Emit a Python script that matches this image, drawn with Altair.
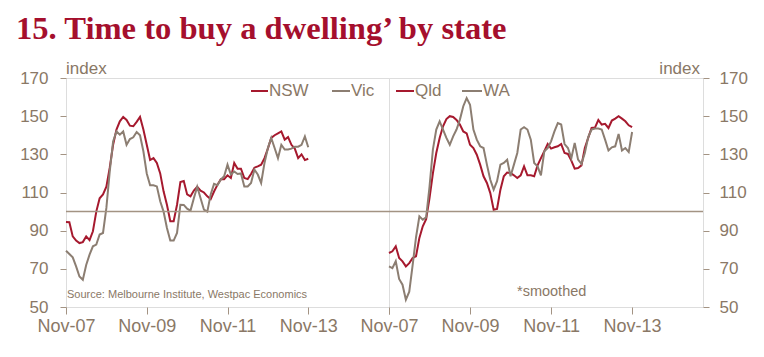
import altair as alt
import pandas as pd

# ---------------- data ----------------
months = list(range(73))  # months since Nov-07
x_tick_values = [0, 24, 48, 72, 96]
x_tick_labels = ["Nov-07", "Nov-09", "Nov-11", "Nov-13", "Nov-15"]
y_ticks = [50, 70, 90, 110, 130, 150, 170]

nsw = [94.5, 94.4, 87, 84.8, 83.5, 84, 87, 85, 89.7, 100,
       107, 109, 113, 123, 135, 143, 147.3, 149.6, 148, 145,
       144.7, 147, 149.6, 143, 135, 127, 128, 125.5, 120, 110.6,
       103.6, 95, 95, 103.6, 115.5, 116, 109, 108, 111, 113,
       111, 110, 108, 106.5, 110.5, 114, 117, 117, 119, 117.6,
       125.5, 122.5, 122.5, 117.6, 117, 119.7, 123, 123.7, 124.6, 128,
       133, 138.6, 140, 141, 142, 137.7, 139, 135, 133, 128,
       130, 127, 127.7]
vic = [79.5, 77.8, 76, 71.3, 66, 64.3, 72, 77.4, 81.8, 82.7,
       88, 88.8, 101.9, 121, 136.8, 142, 140.3, 142, 135, 138,
       138.9, 141.7, 140, 131.6, 120, 113.8, 113.8, 113.2, 105.4, 100,
       91.4, 84.8, 84.8, 88.8, 103.6, 103.5, 101.5, 100.5, 107, 113,
       107, 101, 100, 109, 114.5, 113.8, 116.7, 118.5, 124.6, 119.4,
       121, 119.7, 120, 113.2, 113.2, 115, 122, 119.4, 115, 125.5,
       133.3, 138.6, 133.3, 128, 135, 132.5, 132.5, 133, 134, 134,
       135, 139.4, 133.7]
qld = [78.3, 79.2, 81.8, 75.7, 73.9, 71.3, 73, 75.7, 76.6, 86.2,
       92.3, 96, 107, 120, 130.7, 138.6, 144.7, 148.5, 150, 149.6,
       148, 145.6, 142, 141, 135, 133.3, 129.8, 124.6, 118.5, 115,
       109.7, 101, 101.4, 111.5, 118.5, 120.5, 120.2, 119, 117.6, 119,
       123.7, 119, 119, 118.5, 124.2, 128, 131.6, 135.4, 133, 133.7,
       134.2, 135.4, 130.7, 130.2, 126.7, 122.5, 122.8, 124.2, 133.3, 138.6,
       143.8, 144, 148, 145.6, 146, 143.8, 147.7, 148.7, 150, 148.7,
       147.3, 145.2, 144.2]
wa = [71.3, 70.4, 74, 64.7, 61.7, 53.8, 58, 72, 86.5, 97.5,
      95.8, 97, 113, 132.5, 143, 147.3, 143, 138.6, 135, 139.4,
      143, 148.2, 155.2, 159.5, 156, 143, 137.7, 134.2, 133.3, 124.6,
      116.7, 111.5, 115.9, 124.6, 125.5, 127.2, 118.5, 124.6, 130.7, 143,
      144.2, 143, 137.7, 125.5, 123.7, 119, 131.6, 133.3, 136.8, 142,
      146.4, 145.6, 135.4, 133.3, 128, 136, 127.2, 125, 130.7, 139,
      143, 143.5, 143.5, 143, 137.7, 132, 133.7, 134.2, 140.7, 132,
      133.3, 131.2, 141.7]

left_series = ["NSW", "Vic"]
right_series = ["Qld", "WA"]
title_text = "15. Time to buy a dwelling\u2019 by state"
source_text = "Source: Melbourne Institute, Westpac Economics"
note_text = "*smoothed"
unit_text = "index"

# ---------------- style ----------------
RED = "#a6192e"
GRAY = "#8c7e72"
TXT = "#8a7866"
FRAME = "#a39383"
FONT = "Liberation Sans"

H = 229
W_LEFT = 323
W_RIGHT = 314

label_expr = "[" + ",".join(f"'{s}'" for s in x_tick_labels) + "][round(datum.value/24)]"


def long_df(names, a, b):
    return pd.DataFrame({
        "month": months + months,
        "value": a + b,
        "series": [names[0]] * len(months) + [names[1]] * len(months),
    })


def panel(names, a, b, width, xmax, y_orient, legend_pos, unit_x, unit_align, notes):
    df = long_df(names, a, b)
    xvals = [v for v in x_tick_values if v <= xmax]
    yscale = alt.Scale(domain=[50, 170], nice=False, zero=False)
    x = alt.X("month:Q",
              scale=alt.Scale(domain=[0, xmax], nice=False, zero=False),
              axis=alt.Axis(values=xvals, labelExpr=f"datum.value >= 96 ? '' : {label_expr}",
                            title=None, grid=False, domain=False, tickSize=7,
                            tickColor=FRAME, labelColor=TXT, labelFont=FONT,
                            labelFontSize=18, labelPadding=3, labelFlush=False,
                            labelOverlap=False))
    yaxis = alt.Axis(values=y_ticks, orient=y_orient, title=None, grid=False,
                     domain=False, tickSize=6, tickColor=FRAME, labelColor=TXT,
                     labelFont=FONT, labelFontSize=17, labelOverlap=False,
                     labelFlush=False, labelBound=False,
                     labelPadding=12 if y_orient == "left" else 10)
    y = alt.Y("value:Q", scale=yscale, axis=yaxis)
    lines = alt.Chart(df).mark_line(strokeWidth=2).encode(
        x=x, y=y,
        color=alt.Color("series:N", scale=alt.Scale(domain=names, range=[RED, GRAY]), legend=None),
        detail="series:N",
    )
    ref = alt.Chart(pd.DataFrame({"value": [100]})).mark_rule(color=FRAME, strokeWidth=1.5).encode(
        y=alt.Y("value:Q", scale=yscale, axis=yaxis)
    )
    layers = [lines, ref]
    for (name, col, (x0, x1)) in zip(names, [RED, GRAY], legend_pos):
        ldf = pd.DataFrame({"t": [name]})
        layers.append(alt.Chart(ldf).mark_rule(color=col, strokeWidth=2).encode(
            x=alt.value(x0), x2=alt.value(x1), y=alt.value(13)))
        layers.append(alt.Chart(ldf).mark_text(align="left", baseline="middle", font=FONT,
                                               fontSize=17, color=TXT, dx=1).encode(
            text="t:N", x=alt.value(x1), y=alt.value(13)))
    layers.append(alt.Chart(pd.DataFrame({"t": [unit_text]})).mark_text(
        align=unit_align, baseline="alphabetic", font=FONT, fontSize=17, color=TXT).encode(
        text="t:N", x=alt.value(unit_x), y=alt.value(-4)))
    for (t, nx, ny, fs) in notes:
        layers.append(alt.Chart(pd.DataFrame({"t": [t]})).mark_text(
            align="left", baseline="middle", font=FONT, fontSize=fs, color=TXT).encode(
            text="t:N", x=alt.value(nx), y=alt.value(ny)))
    return alt.layer(*layers).properties(width=width, height=H)


left = panel(left_series, nsw, vic, W_LEFT, 96, "left",
             [(185, 202), (266, 284)], 0, "left",
             [(source_text, 1, 217, 11)])
right = panel(right_series, qld, wa, W_RIGHT, 93, "right",
              [(7, 25), (73, 93)], 311, "right",
              [(note_text, 128, 214, 14.5)])

chart = alt.hconcat(left, right, spacing=0, bounds="flush").properties(
    title=alt.TitleParams(title_text, font="Liberation Serif", fontSize=32.6,
                          fontWeight="bold", color="#a50f2d", anchor="start",
                          frame="group", dx=-50, offset=14),
    padding={"left": 16, "top": 12, "right": 5, "bottom": 5},
).configure_view(stroke=FRAME, strokeWidth=1.5).configure_axis(
    labelOverlap=False
).configure(background="white")

chart.save("out.html", embed_options={"renderer": "svg", "actions": False})
